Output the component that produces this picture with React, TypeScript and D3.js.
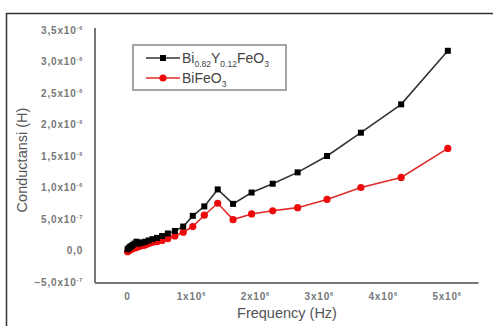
import React, { useEffect, useRef } from 'react'
import * as d3 from 'd3'

// frequency in MHz (x 10^6 Hz), conductance in x 10^-6
const freq = [0.01, 0.03, 0.05, 0.07, 0.09, 0.12, 0.15, 0.18, 0.21, 0.25, 0.29, 0.34, 0.40, 0.47, 0.55, 0.64, 0.75, 0.88, 1.03, 1.21, 1.42, 1.66, 1.95, 2.28, 2.67, 3.13, 3.66, 4.29, 5.02]
const biY = [0.02, 0.04, 0.06, 0.07, 0.09, 0.11, 0.14, 0.11, 0.12, 0.13, 0.14, 0.16, 0.18, 0.20, 0.23, 0.27, 0.31, 0.38, 0.55, 0.70, 0.97, 0.74, 0.92, 1.06, 1.24, 1.50, 1.87, 2.32, 3.17]
const biFeO = [-0.02, 0.0, 0.01, 0.02, 0.03, 0.04, 0.05, 0.06, 0.07, 0.08, 0.09, 0.11, 0.13, 0.14, 0.16, 0.19, 0.23, 0.29, 0.38, 0.56, 0.75, 0.49, 0.58, 0.63, 0.68, 0.81, 1.00, 1.16, 1.62]

const yTicks = [-0.5, 0, 0.5, 1.0, 1.5, 2.0, 2.5, 3.0, 3.5]
const xTicks = [0, 1, 2, 3, 4, 5]

const W = 493, H = 326
const font = 'Liberation Sans, Arial, sans-serif'

export default function App() {
  const ref = useRef<SVGSVGElement>(null)

  useEffect(() => {
    const svg = d3.select(ref.current)
    svg.selectAll('*').remove()

    const x = d3.scaleLinear().domain([-0.5, 5.5]).range([95, 478.5])
    const y = d3.scaleLinear().domain([-0.5, 3.5]).range([282, 30])

    // outer frame
    svg.append('rect')
      .attr('x', 6.5).attr('y', 13.5)
      .attr('width', 600).attr('height', 400)
      .attr('fill', 'none').attr('stroke', '#333').attr('stroke-width', 1.5)

    // y axis
    const gy = svg.append('g').attr('transform', 'translate(95,0)')
      .call(d3.axisLeft(y).tickValues(yTicks).tickSize(0).tickPadding(12))
    gy.select('.domain').attr('stroke', '#777').attr('stroke-width', 2)
      .attr('d', 'M0,' + (y(3.5) - 2) + 'V' + (y(-0.5) + 1))
    gy.selectAll('text').each(function (d: any) {
      const t = d3.select(this)
      t.text(null)
        .attr('font-family', font).attr('font-size', 10).attr('font-weight', 'bold')
        .attr('fill', '#777').attr('letter-spacing', 0.8)
      if (d === 0) {
        t.append('tspan').text('0,0')
      } else {
        t.append('tspan').text(d3.format('.1f')(Math.abs(d) < 1 ? d * 10 : d).replace('.', ',') + 'x10')
        t.append('tspan').attr('dy', -4).attr('font-size', 5.5).text(Math.abs(d) < 1 ? '-7' : '-6')
      }
    })

    // x axis
    const gx = svg.append('g').attr('transform', 'translate(0,283)')
      .call(d3.axisBottom(x).tickValues(xTicks).tickSize(0).tickPadding(10))
    gx.select('.domain').attr('stroke', '#777').attr('stroke-width', 2)
      .attr('d', 'M' + x(-0.5) + ',0H' + x(5.5))
    gx.selectAll('text').each(function (d: any) {
      const t = d3.select(this)
      t.text(null)
        .attr('font-family', font).attr('font-size', 10).attr('font-weight', 'bold')
        .attr('fill', '#777').attr('letter-spacing', 0.8)
      if (d === 0) {
        t.append('tspan').text('0')
      } else {
        t.append('tspan').text(d + 'x10')
        t.append('tspan').attr('dy', -4).attr('font-size', 5.5).text('6')
      }
    })

    // titles
    svg.append('text')
      .attr('transform', 'translate(27,160) rotate(-90)')
      .attr('text-anchor', 'middle')
      .attr('font-family', font).attr('font-size', 14.5).attr('fill', '#555')
      .text('Conductansi (H)')
    svg.append('text')
      .attr('x', 287).attr('y', 318)
      .attr('text-anchor', 'middle')
      .attr('font-family', font).attr('font-size', 14.5).attr('fill', '#555')
      .text('Frequency (Hz)')

    const line = d3.line<number>().x((d, i) => x(freq[i])).y(d => y(d))

    // BiFeO3
    svg.append('path').datum(biFeO)
      .attr('d', line).attr('fill', 'none')
      .attr('stroke', '#e02a2a').attr('stroke-width', 1.6)
    svg.selectAll('.red').data(biFeO).enter().append('circle')
      .attr('class', 'red')
      .attr('cx', (d, i) => x(freq[i])).attr('cy', d => y(d))
      .attr('r', 3.6).attr('fill', '#ee0a0a')

    // Bi0.82Y0.12FeO3
    svg.append('path').datum(biY)
      .attr('d', line).attr('fill', 'none')
      .attr('stroke', '#333').attr('stroke-width', 1.6)
    svg.selectAll('.blk').data(biY).enter().append('rect')
      .attr('class', 'blk')
      .attr('x', (d, i) => x(freq[i]) - 3).attr('y', d => y(d) - 3)
      .attr('width', 6).attr('height', 6).attr('fill', '#000')

    // legend
    const lg = svg.append('g')
    lg.append('rect')
      .attr('x', 133).attr('y', 45).attr('width', 153).attr('height', 45)
      .attr('fill', '#fff').attr('stroke', '#888').attr('stroke-width', 1.5)
    lg.append('line').attr('x1', 146).attr('x2', 180).attr('y1', 58).attr('y2', 58)
      .attr('stroke', '#333').attr('stroke-width', 1.6)
    lg.append('rect').attr('x', 160).attr('y', 55).attr('width', 6).attr('height', 6).attr('fill', '#000')
    lg.append('line').attr('x1', 146).attr('x2', 180).attr('y1', 78).attr('y2', 78)
      .attr('stroke', '#e02a2a').attr('stroke-width', 1.6)
    lg.append('circle').attr('cx', 163).attr('cy', 78).attr('r', 3.6).attr('fill', '#ee0a0a')

    const t1 = lg.append('text').attr('x', 182).attr('y', 63)
      .attr('font-family', font).attr('font-size', 14).attr('fill', '#444')
    t1.append('tspan').text('Bi')
    t1.append('tspan').attr('font-size', 8.5).attr('dy', 4).text('0.82')
    t1.append('tspan').attr('dy', -4).text('Y')
    t1.append('tspan').attr('font-size', 8.5).attr('dy', 4).text('0.12')
    t1.append('tspan').attr('dy', -4).text('FeO')
    t1.append('tspan').attr('font-size', 8.5).attr('dy', 4).text('3')

    const t2 = lg.append('text').attr('x', 182).attr('y', 83)
      .attr('font-family', font).attr('font-size', 14).attr('fill', '#444')
    t2.append('tspan').text('BiFeO')
    t2.append('tspan').attr('font-size', 8.5).attr('dy', 4).text('3')
  }, [])

  return (
    <svg ref={ref} width={W} height={H}
      style={{ position: 'absolute', left: 0, top: 0, background: '#fff' }} />
  )
}
